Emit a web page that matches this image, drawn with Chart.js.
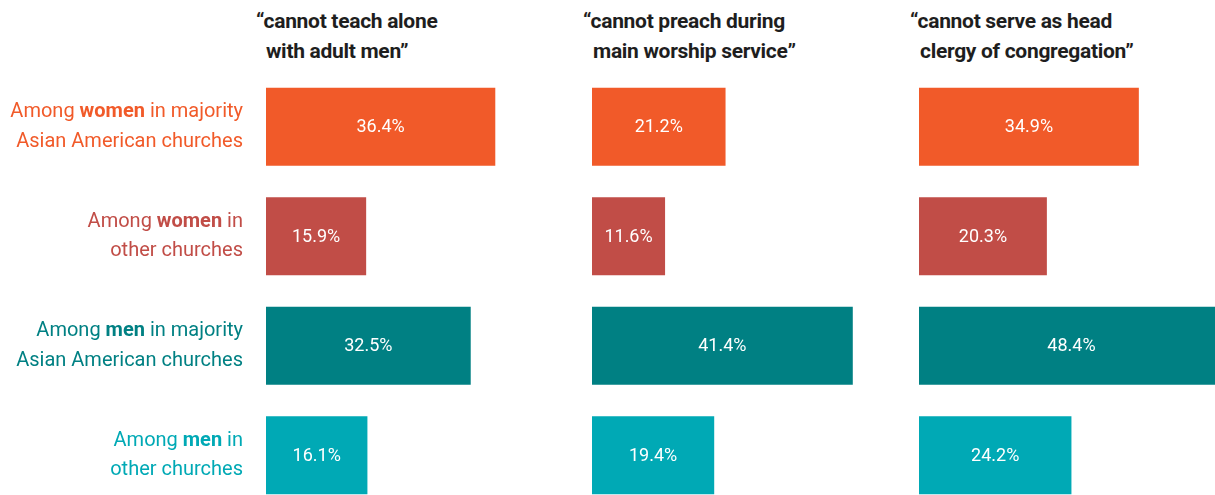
<!DOCTYPE html>
<html>
<head>
<meta charset="utf-8">
<script src="https://cdn.jsdelivr.net/npm/chart.js@4"></script>
<style>
  html, body { margin: 0; padding: 0; background: #fff; }
  body { width: 1215px; height: 495px; position: relative; overflow: hidden; }
  canvas { position: absolute; top: 72px; }
  .title {
    position: absolute; top: 6px; width: 300px;
    font: 700 21px Roboto, sans-serif; line-height: 30px; color: #1e1e1e;
    text-indent: -10px; letter-spacing: -0.3px;
  }
</style>
</head>
<body>
<div class="title" id="t0" style="left:266px"></div>
<div class="title" id="t1" style="left:593px"></div>
<div class="title" id="t2" style="left:920px"></div>
<canvas id="c0" width="586" height="438" style="left:0"></canvas>
<canvas id="c1" width="320" height="438" style="left:592px"></canvas>
<canvas id="c2" width="320" height="438" style="left:919px"></canvas>
<script>
const groups = [
  'Among women in majority Asian American churches',
  'Among women in other churches',
  'Among men in majority Asian American churches',
  'Among men in other churches'
];
// label lines, [text, bold] pieces
const groupLines = [
  [[['Among ', 0], ['women', 1], [' in majority', 0]], [['Asian American churches', 0]]],
  [[['Among ', 0], ['women', 1], [' in', 0]], [['other churches', 0]]],
  [[['Among ', 0], ['men', 1], [' in majority', 0]], [['Asian American churches', 0]]],
  [[['Among ', 0], ['men', 1], [' in', 0]], [['other churches', 0]]]
];
const questions = [
  ['“cannot teach alone', 'with adult men”'],
  ['“cannot preach during', 'main worship service”'],
  ['“cannot serve as head', 'clergy of congregation”']
];
const teachAlone = [36.4, 15.9, 32.5, 16.1];
const preachMain = [21.2, 11.6, 41.4, 19.4];
const headClergy = [34.9, 20.3, 48.4, 24.2];
const barColors = ['#f15a29', '#c14d47', '#008083', '#00a9b5'];
const xMax = 50.8;

const valueLabels = {
  id: 'valueLabels',
  afterDatasetsDraw(chart) {
    const c = chart.ctx;
    const meta = chart.getDatasetMeta(0);
    c.save();
    c.fillStyle = '#fff';
    c.font = '400 18px Roboto, sans-serif';
    c.textAlign = 'center';
    c.textBaseline = 'middle';
    meta.data.forEach((bar, i) => {
      const v = chart.data.datasets[0].data[i];
      const x = (chart.chartArea.left + Math.min(bar.x, chart.chartArea.right)) / 2;
      c.fillText(v.toFixed(1) + '%', x, bar.y + 1);
    });
    c.restore();
  }
};

const groupLabels = {
  id: 'groupLabels',
  afterDraw(chart) {
    const c = chart.ctx;
    const y = chart.scales.y;
    const right = 243;
    c.save();
    c.textBaseline = 'middle';
    c.textAlign = 'left';
    groupLines.forEach((lines, i) => {
      const cy = y.getPixelForValue(i);
      c.fillStyle = barColors[i];
      lines.forEach((pieces, li) => {
        const ly = cy + (li - 0.5) * 29.5;
        let w = 0;
        pieces.forEach(([t, b]) => {
          c.font = (b ? '700 ' : '400 ') + '20px Roboto, sans-serif';
          w += c.measureText(t).width;
        });
        let x = right - w;
        pieces.forEach(([t, b]) => {
          c.font = (b ? '700 ' : '400 ') + '20px Roboto, sans-serif';
          c.fillText(t, x, ly);
          x += c.measureText(t).width;
        });
      });
    });
    c.restore();
  }
};

function makeChart(id, values, padLeft, withLabels) {
  return new Chart(document.getElementById(id), {
    type: 'bar',
    data: {
      labels: groups,
      datasets: [{
        data: values,
        backgroundColor: barColors,
        categoryPercentage: 1,
        barPercentage: 0.714
      }]
    },
    options: {
      indexAxis: 'y',
      responsive: false,
      animation: false,
      layout: { padding: { left: padLeft, right: 0, top: 0, bottom: 0 } },
      scales: {
        x: { display: false, min: 0, max: xMax },
        y: { display: false }
      },
      plugins: { legend: { display: false }, tooltip: { enabled: false } }
    },
    plugins: withLabels ? [valueLabels, groupLabels] : [valueLabels]
  });
}

questions.forEach((q, i) => {
  document.getElementById('t' + i).innerHTML = q.join('<br>');
});

makeChart('c0', teachAlone, 266, true);
makeChart('c1', preachMain, 0, false);
makeChart('c2', headClergy, 0, false);
</script>
</body>
</html>
